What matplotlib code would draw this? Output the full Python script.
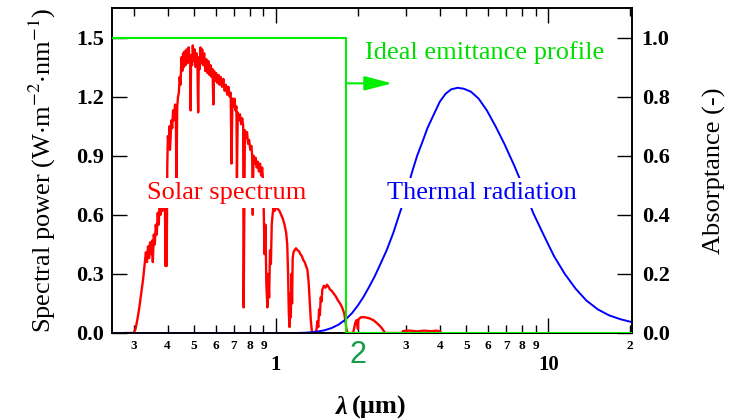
import matplotlib
matplotlib.use("Agg")
import matplotlib.pyplot as plt
from matplotlib.ticker import FixedLocator, FixedFormatter
from matplotlib.transforms import blended_transform_factory

plt.rcParams['font.family'] = 'Liberation Serif'
plt.rcParams['mathtext.fontset'] = 'stix'

# solar spectrum (AM1.5-like), wavelength in um, power in W m-2 nm-1
solar_wl = [0.280, 0.300, 0.305, 0.310, 0.315, 0.320, 0.325, 0.329, 0.333, 0.336,
            0.339, 0.342, 0.345, 0.348, 0.351, 0.353, 0.356, 0.359, 0.362, 0.365,
            0.368, 0.371, 0.374, 0.377, 0.380, 0.383, 0.386, 0.389, 0.391, 0.393,
            0.395, 0.397, 0.399, 0.401, 0.404, 0.407, 0.408, 0.410, 0.413, 0.416,
            0.419, 0.422, 0.426, 0.429, 0.431, 0.434, 0.437, 0.440, 0.443, 0.446,
            0.450, 0.453, 0.456, 0.459, 0.462, 0.466, 0.470, 0.474, 0.478, 0.482,
            0.485, 0.486, 0.488, 0.492, 0.495, 0.499, 0.503, 0.507, 0.511, 0.515,
            0.518, 0.521, 0.525, 0.528, 0.532, 0.536, 0.540, 0.545, 0.550, 0.555,
            0.560, 0.565, 0.570, 0.575, 0.580, 0.585, 0.589, 0.593, 0.598, 0.603,
            0.609, 0.615, 0.621, 0.627, 0.634, 0.641, 0.648, 0.655, 0.662, 0.669,
            0.676, 0.682, 0.687, 0.692, 0.698, 0.704, 0.710, 0.716, 0.719, 0.724,
            0.731, 0.738, 0.745, 0.752, 0.758, 0.761, 0.765, 0.769, 0.776, 0.783,
            0.790, 0.797, 0.805, 0.812, 0.818, 0.822, 0.827, 0.834, 0.842, 0.850,
            0.858, 0.866, 0.874, 0.882, 0.890, 0.896, 0.902, 0.908, 0.915, 0.922,
            0.930, 0.937, 0.944, 0.951, 0.958, 0.965, 0.972, 0.980, 0.990, 1.000,
            1.015, 1.030, 1.045, 1.060, 1.075, 1.090, 1.100, 1.108, 1.115, 1.122,
            1.128, 1.134, 1.140, 1.146, 1.152, 1.160, 1.170, 1.185, 1.200, 1.215,
            1.230, 1.245, 1.260, 1.275, 1.290, 1.305, 1.318, 1.330, 1.342, 1.352,
            1.360, 1.395, 1.410, 1.420, 1.430, 1.440, 1.450, 1.460, 1.470, 1.480,
            1.500, 1.520, 1.540, 1.560, 1.580, 1.600, 1.630, 1.660, 1.690, 1.720,
            1.750, 1.780, 1.800, 1.815, 1.830, 1.920, 1.940, 1.960, 1.980, 2.000,
            2.010, 2.050, 2.120, 2.200, 2.280, 2.350, 2.430, 2.520, 2.900, 2.930,
            3.100, 3.300, 3.500, 3.700, 3.900, 4.000, 4.050]
solar_pw = [0.00, 0.00, 0.02, 0.07, 0.13, 0.20, 0.27, 0.34, 0.41, 0.36,
            0.44, 0.38, 0.46, 0.40, 0.47, 0.36, 0.50, 0.45, 0.55, 0.50,
            0.61, 0.55, 0.66, 0.60, 0.70, 0.62, 0.70, 0.64, 0.68, 0.34,
            0.62, 0.34, 0.85, 1.00, 0.95, 1.05, 0.93, 0.98, 1.08, 1.04,
            1.13, 1.08, 1.16, 1.10, 0.75, 1.15, 1.20, 1.22, 1.30, 1.26,
            1.40, 1.33, 1.42, 1.35, 1.43, 1.36, 1.44, 1.37, 1.45, 1.38,
            1.40, 1.13, 1.41, 1.36, 1.46, 1.38, 1.44, 1.35, 1.42, 1.36,
            1.12, 1.40, 1.34, 1.45, 1.37, 1.44, 1.36, 1.42, 1.33, 1.39,
            1.32, 1.38, 1.31, 1.36, 1.30, 1.34, 1.16, 1.33, 1.28, 1.32,
            1.27, 1.31, 1.26, 1.30, 1.25, 1.29, 1.23, 1.26, 1.21, 1.25,
            1.20, 1.22, 0.86, 1.19, 1.15, 1.19, 1.13, 1.15, 0.78, 1.12,
            1.08, 1.11, 1.06, 1.09, 1.05, 0.13, 0.60, 1.03, 0.99, 1.02,
            0.96, 0.98, 0.93, 0.95, 0.90, 0.60, 0.90, 0.86, 0.89, 0.84,
            0.87, 0.82, 0.86, 0.80, 0.84, 0.78, 0.62, 0.40, 0.55, 0.25,
            0.13, 0.30, 0.18, 0.42, 0.35, 0.55, 0.60, 0.64, 0.62, 0.64,
            0.63, 0.62, 0.60, 0.58, 0.55, 0.51, 0.45, 0.30, 0.10, 0.03,
            0.20, 0.08, 0.30, 0.15, 0.38, 0.41, 0.42, 0.43, 0.42, 0.415,
            0.40, 0.39, 0.37, 0.36, 0.34, 0.32, 0.26, 0.16, 0.07, 0.02,
            0.00, 0.00, 0.02, 0.06, 0.03, 0.12, 0.09, 0.18, 0.16, 0.22,
            0.24, 0.23, 0.245, 0.235, 0.22, 0.215, 0.20, 0.185, 0.165, 0.15,
            0.13, 0.10, 0.06, 0.02, 0.00, 0.00, 0.03, 0.055, 0.066, 0.02,
            0.07, 0.08, 0.08, 0.075, 0.065, 0.05, 0.03, 0.00, 0.00, 0.01,
            0.012, 0.008, 0.012, 0.009, 0.012, 0.008, 0.00]

# thermal (blackbody-like) emission, same units as the left axis
thermal_wl = [0.25, 1.20, 1.30, 1.40, 1.50, 1.60, 1.70, 1.80, 1.90, 2.00,
              2.10, 2.20, 2.30, 2.40, 2.55, 2.70, 2.85, 3.00, 3.15, 3.30,
              3.45, 3.60, 3.80, 4.00, 4.20, 4.40, 4.65, 4.90, 5.20, 5.55,
              5.95, 6.40, 6.90, 7.50, 8.10, 8.80, 9.60, 10.5, 11.5, 12.6,
              13.8, 15.2, 16.7, 18.4, 20.3]
thermal_pw = [0.0, 0.0, 0.002, 0.006, 0.013, 0.025, 0.043, 0.068, 0.10, 0.14,
              0.185, 0.235, 0.285, 0.34, 0.42, 0.51, 0.61, 0.70, 0.81, 0.90,
              0.97, 1.04, 1.11, 1.175, 1.215, 1.237, 1.245, 1.24, 1.225, 1.19,
              1.13, 1.05, 0.96, 0.85, 0.74, 0.61, 0.50, 0.39, 0.30, 0.225,
              0.165, 0.12, 0.09, 0.07, 0.055]

# ideal emittance step profile (right axis)
ideal_wl = [0.25, 1.81, 1.81, 20.3]
ideal_ab = [1.0, 1.0, 0.0, 0.0]

minor_ticks = [0.3, 0.4, 0.5, 0.6, 0.7, 0.8, 0.9, 2, 3, 4, 5, 6, 7, 8, 9, 20]
minor_labels = ['3', '4', '5', '6', '7', '8', '9', '', '3', '4', '5', '6', '7', '8', '9', '2']
major_ticks = [1, 10]
major_labels = ['1', '10']

green = '#00ee00'

fig = plt.figure(figsize=(7.4, 4.2), dpi=100)
ax = fig.add_axes([112/740, 87/420, 520/740, 325/420])
ax.set_xscale('log')
ax.set_xlim(0.25, 20.3)
ax.set_ylim(0, 1.65)

ax.plot(solar_wl, solar_pw, color='red', lw=1.7, zorder=2)
ax.plot(thermal_wl, thermal_pw, color='blue', lw=1.4, zorder=3)

ax.xaxis.set_major_locator(FixedLocator(major_ticks))
ax.xaxis.set_major_formatter(FixedFormatter(major_labels))
ax.xaxis.set_minor_locator(FixedLocator(minor_ticks))
ax.xaxis.set_minor_formatter(FixedFormatter(minor_labels))
ax.set_yticks([0.0, 0.3, 0.6, 0.9, 1.2, 1.5])
ax.set_yticklabels(['0.0', '0.3', '0.6', '0.9', '1.2', '1.5'])

ax.tick_params(axis='x', which='major', direction='in', top=True, length=11, width=1,
               pad=16, labelsize=15)
ax.tick_params(axis='x', which='minor', direction='in', top=True, length=6, width=1,
               pad=5, labelsize=9.5)
ax.tick_params(axis='y', direction='in', right=False, length=11, width=1, pad=6,
               labelsize=16)
for lab in ax.get_xticklabels(which='both') + ax.get_yticklabels():
    lab.set_fontweight('bold')

ax2 = ax.twinx()
ax2.set_ylim(0, 1.1)
ax2.set_yticks([0.0, 0.2, 0.4, 0.6, 0.8, 1.0])
ax2.set_yticklabels(['0.0', '0.2', '0.4', '0.6', '0.8', '1.0'])
ax2.tick_params(axis='y', direction='in', length=11, width=1, pad=7, labelsize=16)
for lab in ax2.get_yticklabels():
    lab.set_fontweight('bold')

ax2.plot(ideal_wl, ideal_ab, color=green, lw=1.5, zorder=4)
ax2.annotate('', xy=(2.67, 0.845), xytext=(1.81, 0.845),
             arrowprops=dict(arrowstyle='-|>,head_length=0.85,head_width=0.22',
                             mutation_scale=20, color=green, lw=1.5,
                             shrinkA=0, shrinkB=0))

for a in (ax, ax2):
    for s in a.spines.values():
        s.set_linewidth(1.2)

box = dict(facecolor='white', edgecolor='none', pad=3)
ax2.text(0.66, 0.473, 'Solar spectrum', color='red', fontsize=19,
         ha='center', va='center', bbox=box, zorder=5)
ax2.text(5.72, 0.473, 'Thermal radiation', color='blue', fontsize=19,
         ha='center', va='center', bbox=box, zorder=5)
ax2.text(2.12, 0.95, 'Ideal emittance profile', color='#00dd00', fontsize=19,
         ha='left', va='center', zorder=5)

# big green "2" at the step wavelength tick
tr = blended_transform_factory(ax.transData, ax.transAxes)
ax.text(2.0, -0.068, '2', transform=tr, color='#169c4a', fontsize=22,
        family='Liberation Sans', ha='center', va='center', clip_on=False)

fig.text(42/740, 0.595, r'Spectral power (W$\cdot$m$^{-2}$$\cdot$nm$^{-1}$)',
         rotation=90, ha='center', va='center', fontsize=19)
fig.text(714/740, 0.593, 'Absorptance (-)', rotation=90, ha='center', va='center',
         fontsize=19)
fig.text(348/740, 0.03, 'λ', ha='right', va='center', fontsize=19,
         style='italic', fontweight='bold')
fig.text(352/740, 0.03, '(µm)', ha='left', va='center', fontsize=19,
         fontweight='bold')

fig.savefig('out.png', dpi=100)
